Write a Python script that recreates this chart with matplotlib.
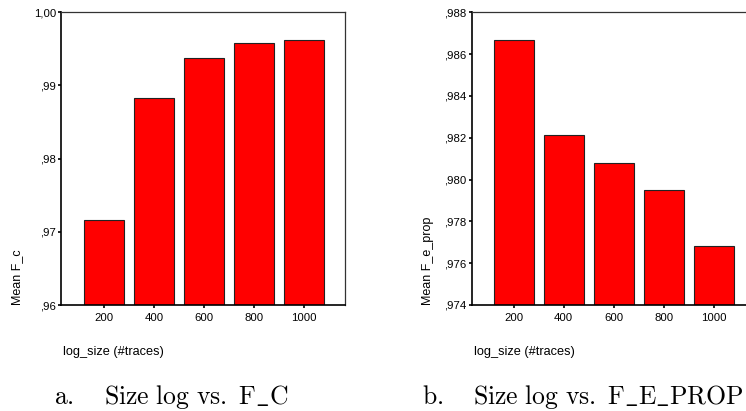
import matplotlib
matplotlib.use("Agg")
import matplotlib.pyplot as plt
from matplotlib.ticker import FuncFormatter, MultipleLocator

# values
sizes = ["200", "400", "600", "800", "1000"]
f_c = [0.9716, 0.9883, 0.9938, 0.9958, 0.9962]
f_e_prop = [0.98666, 0.98213, 0.98079, 0.97949, 0.97684]

W, H = 746, 411
plt.rcParams["mathtext.fontset"] = "cm"
SANS = ["Liberation Sans", "DejaVu Sans"]


def comma_fmt(decimals):
    def f(v, _):
        s = f"{v:.{decimals}f}"
        if s.startswith("0"):
            s = s[1:]
        return s.replace(".", ",")
    return FuncFormatter(f)


def px(x, y):
    return x / W, 1 - y / H


def panel(fig, left_px, values, ylim, step, decimals, ylabel, xlim,
          ylab_x, letter, letter_x, caption, caption_x):
    ax = fig.add_axes([left_px / W, (H - 305) / H, 284 / W, (305 - 12.3) / H])
    xs = range(len(values))
    ax.bar(xs, [v - ylim[0] for v in values], bottom=ylim[0], width=0.8,
           color="#ff0000", edgecolor="#222222", linewidth=0.8)
    ax.set_xlim(*xlim)
    ax.set_ylim(*ylim)
    ax.yaxis.set_major_locator(MultipleLocator(step))
    ax.yaxis.set_major_formatter(comma_fmt(decimals))
    ax.set_xticks(list(xs))
    ax.set_xticklabels(sizes)
    for lab in ax.get_xticklabels() + ax.get_yticklabels():
        lab.set_fontfamily(SANS)
        lab.set_fontsize(8.2)
    ax.tick_params(axis="both", direction="out", length=2.5, width=1.2,
                   pad=1.2, color="black")
    ax.tick_params(axis="x", pad=3.5)
    for side in ["left", "bottom"]:
        ax.spines[side].set_linewidth(1.2)
    for side in ["top", "right"]:
        ax.spines[side].set_linewidth(0.9)
        ax.spines[side].set_color("#333333")

    x, y = px(ylab_x, 305)
    fig.text(x, y, ylabel, rotation=90, ha="center", va="bottom",
             fontsize=9, family=SANS)
    x, y = px(left_px + 2, 352)
    fig.text(x, y, "log_size (#traces)", ha="left", va="center",
             fontsize=9.2, family=SANS)
    x, y = px(letter_x, 397)
    fig.text(x, y, r"$\mathrm{" + letter + "}$", ha="left", va="center",
             fontsize=18.5)
    x, y = px(caption_x, 397)
    fig.text(x, y, caption, ha="left", va="center", fontsize=18.5)
    return ax


fig = plt.figure(figsize=(W / 100, H / 100), dpi=100)

panel(fig, 61, f_c, (0.96, 1.00), 0.01, 2, "Mean F_c", (-0.86, 4.82),
      17, "a.", 54, r"$\mathrm{Size\ log\ vs.\ F\_C}$", 104)
panel(fig, 471.7, f_e_prop, (0.974, 0.988), 0.002, 3, "Mean F_e_prop",
      (-0.84, 4.84), 427.7, "b.", 421.7,
      r"$\mathrm{Size\ log\ vs.\ F\_E\_PROP}$", 472.7)

fig.savefig("out.png", dpi=100)
